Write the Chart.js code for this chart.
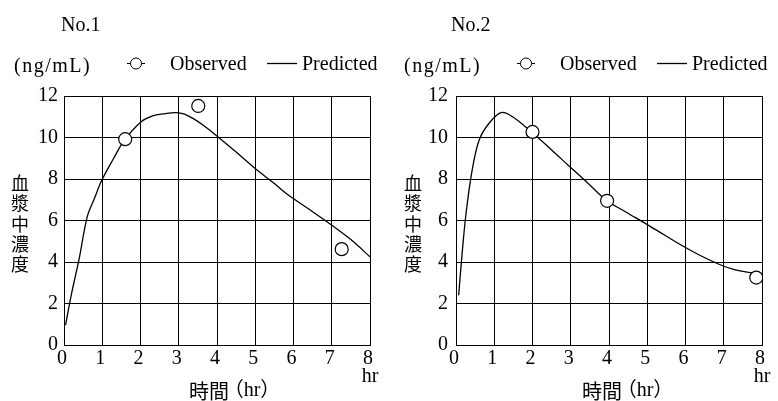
<!DOCTYPE html>
<html>
<head>
<meta charset="utf-8">
<script src="https://cdn.jsdelivr.net/npm/chart.js@4/dist/chart.umd.min.js"></script>
<style>
  body { margin: 0; background: #fff; }
  #wrap { position: relative; width: 778px; height: 401px; }
  canvas { position: absolute; top: 0; }
</style>
</head>
<body>
<div id="wrap">
  <canvas id="c1" width="390" height="401" style="left:0"></canvas>
  <canvas id="c2" width="388" height="401" style="left:390px"></canvas>
</div>
<script>
// ticks
const timeTicks = [0, 1, 2, 3, 4, 5, 6, 7, 8]
const concTicks = [0, 2, 4, 6, 8, 10, 12]

// No.1
const no1PredT = [0.04, 0.2, 0.39, 0.61, 0.8, 0.99, 1.3, 1.57, 2.01, 2.32, 2.6, 2.93, 3.15, 3.37, 3.65, 3.98, 4.5, 5.03, 5.5, 5.81, 6.4, 7.04, 7.5, 8.0]
const no1PredC = [0.96, 2.5, 4.1, 6.2, 7.08, 7.95, 9.0, 9.85, 10.75, 11.04, 11.14, 11.2, 11.13, 10.92, 10.58, 10.1, 9.3, 8.46, 7.78, 7.3, 6.55, 5.72, 5.08, 4.25]
const no1ObsT = [1.6, 3.51, 7.26]
const no1ObsC = [9.92, 11.52, 4.62]

// No.2
const no2PredT = [0.07, 0.15, 0.26, 0.42, 0.61, 0.87, 1.18, 1.48, 1.99, 2.5, 2.97, 3.45, 3.93, 4.45, 4.97, 5.45, 5.93, 6.4, 6.89, 7.3, 7.77]
const no2PredC = [2.4, 4.2, 6.3, 8.4, 9.9, 10.7, 11.2, 11.0, 10.24, 9.4, 8.6, 7.8, 6.98, 6.4, 5.84, 5.3, 4.77, 4.3, 3.88, 3.62, 3.47]
const no2ObsT = [2.0, 3.95, 7.85]
const no2ObsC = [10.27, 6.95, 3.25]

const serif = "'Liberation Serif', 'Noto Sans CJK JP', serif"
const toPoints = (xs, ys) => xs.map((x, i) => ({ x, y: ys[i] }))

const decorPlugin = {
	id: 'decor',
	afterDraw(chart, args, opts) {
		const { ctx, chartArea } = chart
		ctx.save()
		ctx.fillStyle = '#000'
		ctx.strokeStyle = '#000'
		ctx.textBaseline = 'alphabetic'
		ctx.textAlign = 'left'

		ctx.font = '20px ' + serif
		ctx.fillText(opts.title, 61, 31)

		ctx.letterSpacing = '1.5px'
		ctx.fillText('(ng/mL)', 14, 72)
		ctx.letterSpacing = '0px'

		// legend
		ctx.lineWidth = 1
		ctx.beginPath()
		ctx.moveTo(127, 63.5); ctx.lineTo(145, 63.5)
		ctx.stroke()
		ctx.beginPath()
		ctx.arc(136, 63.5, 5.5, 0, Math.PI * 2)
		ctx.fillStyle = '#fff'
		ctx.fill()
		ctx.stroke()
		ctx.fillStyle = '#000'
		ctx.fillText('Observed', 170, 70)
		ctx.lineWidth = 1.3
		ctx.beginPath()
		ctx.moveTo(267, 63.5); ctx.lineTo(297, 63.5)
		ctx.stroke()
		ctx.fillText('Predicted', 302, 70)

		// y label, vertical
		ctx.font = "18px 'Noto Sans CJK JP', sans-serif"
		ctx.textAlign = 'center'
		ctx.textBaseline = 'middle'
		const chars = '血漿中濃度'.split('')
		chars.forEach((ch, i) => ctx.fillText(ch, opts.yLabelX, 183 + i * 20.4))

		// x title
		ctx.font = "20px 'Noto Sans CJK JP', sans-serif"
		ctx.fillText('時間', opts.xTitleX - 22, 391)
		ctx.font = '20px ' + serif
		ctx.fillText('（hr）', opts.xTitleX + 21, 391)

		// unit at right end
		ctx.font = '20px ' + serif
		ctx.fillText('hr', chartArea.right, 377)
		ctx.restore()
	}
}

const crearGrafico = (id, cfg) => {
	const container = document.getElementById(id).getContext('2d')
	return new Chart(container, {
		type: 'scatter',
		data: {
			datasets: [
				{
					label: 'Predicted',
					data: toPoints(cfg.predT, cfg.predC),
					showLine: true,
					borderColor: '#000',
					borderWidth: 1.3,
					pointRadius: 0,
					tension: 0.35,
					order: 2
				},
				{
					label: 'Observed',
					data: toPoints(cfg.obsT, cfg.obsC),
					showLine: false,
					pointRadius: 6.5,
					pointBackgroundColor: '#fff',
					pointBorderColor: '#000',
					pointBorderWidth: 1.2,
					order: 1
				}
			]
		},
		options: {
			responsive: false,
			animation: false,
			devicePixelRatio: 1,
			layout: { padding: { left: 0, right: cfg.padRight, top: 96, bottom: 0 } },
			plugins: {
				legend: { display: false },
				tooltip: { enabled: false },
				decor: { title: cfg.title, yLabelX: cfg.yLabelX, xTitleX: cfg.xTitleX }
			},
			scales: {
				x: {
					type: 'linear',
					min: 0,
					max: 8,
					afterBuildTicks: (scale) => { scale.ticks = timeTicks.map(v => ({ value: v })) },
					afterFit: (scale) => { scale.height = 56 },
					grid: { color: '#000', lineWidth: 1, drawTicks: false },
					border: { color: '#000', width: 1 },
					ticks: { color: '#000', font: { family: serif, size: 20 }, padding: 2, labelOffset: -2, maxRotation: 0 }
				},
				y: {
					min: 0,
					max: 12,
					afterBuildTicks: (scale) => { scale.ticks = concTicks.map(v => ({ value: v })) },
					afterFit: (scale) => { scale.width = cfg.left },
					grid: { color: '#000', lineWidth: 1, drawTicks: false },
					border: { color: '#000', width: 1 },
					ticks: { color: '#000', font: { family: serif, size: 20 }, padding: cfg.tickPad }
				}
			}
		},
		plugins: [decorPlugin]
	})
}

crearGrafico('c1', {
	title: 'No.1', predT: no1PredT, predC: no1PredC, obsT: no1ObsT, obsC: no1ObsC,
	left: 64, padRight: 20, tickPad: 6, yLabelX: 20, xTitleX: 231
})
crearGrafico('c2', {
	title: 'No.2', predT: no2PredT, predC: no2PredC, obsT: no2ObsT, obsC: no2ObsC,
	left: 66, padRight: 16, tickPad: 8, yLabelX: 23, xTitleX: 234
})
</script>
</body>
</html>
